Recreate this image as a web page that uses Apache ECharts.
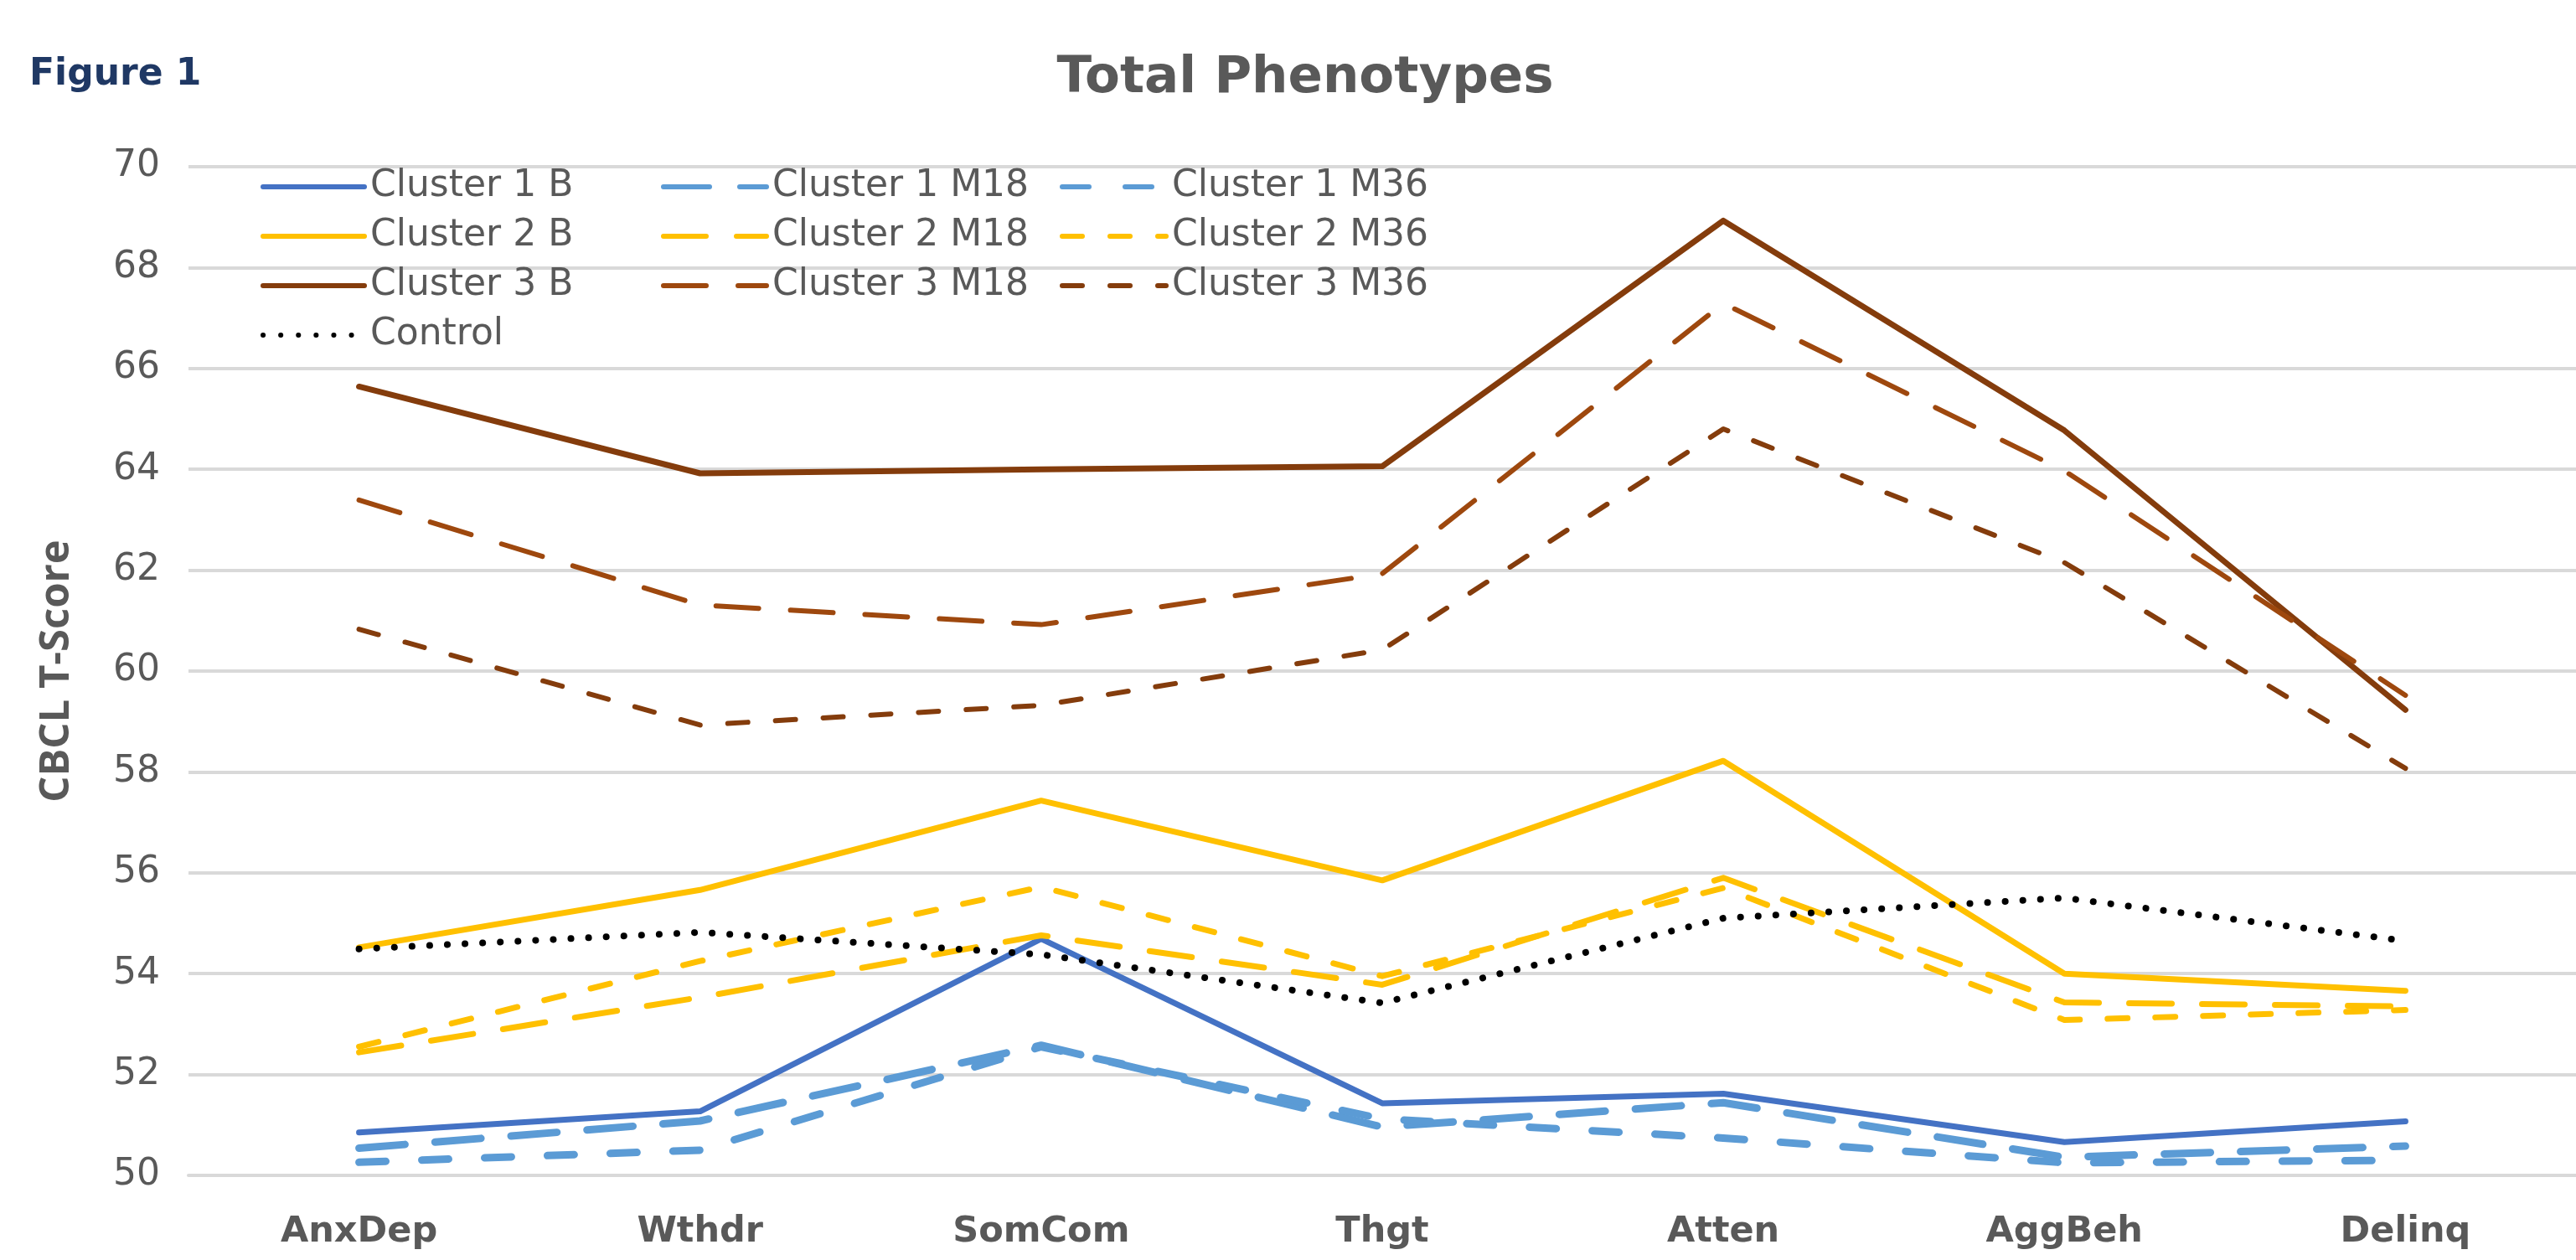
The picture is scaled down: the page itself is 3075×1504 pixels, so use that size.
<!DOCTYPE html>
<html>
<head>
<meta charset="utf-8">
<script src="https://cdn.jsdelivr.net/npm/echarts@6/dist/echarts.min.js"></script>
<style>
html,body{margin:0;padding:0;background:#fff;}
#chart{width:3075px;height:1504px;}
</style>
</head>
<body>
<div id="chart"></div>
<script>
const categories = ['AnxDep','Wthdr','SomCom','Thgt','Atten','AggBeh','Delinq'];
const yTicks = [50,52,54,56,58,60,62,64,66,68,70];

const cluster1B   = [50.85, 51.27, 54.69, 51.43, 51.62, 50.66, 51.07];
const cluster1M18 = [50.54, 51.08, 52.58, 50.96, 51.44, 50.36, 50.58];
const cluster1M36 = [50.26, 50.50, 52.55, 51.12, 50.74, 50.25, 50.30];
const cluster2B   = [54.52, 55.66, 57.43, 55.85, 58.22, 54.00, 53.66];
const cluster2M18 = [52.44, 53.53, 54.76, 53.78, 55.90, 53.43, 53.35];
const cluster2M36 = [52.55, 54.25, 55.72, 53.95, 55.70, 53.08, 53.28];
const cluster3B   = [65.64, 63.92, 64.00, 64.06, 68.93, 64.77, 59.23];
const cluster3M18 = [63.39, 61.31, 60.92, 61.93, 67.29, 63.97, 59.52];
const cluster3M36 = [60.83, 58.93, 59.32, 60.42, 64.80, 62.15, 58.07];
const control     = [54.49, 54.82, 54.38, 53.42, 55.10, 55.50, 54.65];

const C1 = '#4472C4', C1L = '#5B9BD5', C2 = '#FFC000', C3 = '#843C0C', C3M = '#9E480E';

function mk(name, data, color, width, type) {
  return {
    name: name, type: 'line', data: data, symbol: 'none',
    lineStyle: { color: color, width: width, type: type, cap: 'round', join: 'round' },
    itemStyle: { color: color },
    emphasis: { disabled: true },
    animation: false
  };
}

const series = [
  mk('Cluster 1 B', cluster1B, C1, 7, 'solid'),
  mk('Cluster 1 M18', cluster1M18, C1L, 9, [55, 36]),
  mk('Cluster 1 M36', cluster1M36, C1L, 9, [32, 43]),
  mk('Cluster 2 B', cluster2B, C2, 7, 'solid'),
  mk('Cluster 2 M18', cluster2M18, C2, 7, [51, 36]),
  mk('Cluster 2 M36', cluster2M36, C2, 7, [24, 33]),
  mk('Cluster 3 B', cluster3B, C3, 7, 'solid'),
  mk('Cluster 3 M18', cluster3M18, C3M, 6, [51, 38]),
  mk('Cluster 3 M36', cluster3M36, C3, 6, [24, 33]),
  mk('Control', control, '#000000', 8, [0.1, 21])
];

const legendText = { color: '#595959', fontSize: 44, fontFamily: 'DejaVu Sans', lineHeight: 50, padding: [0,0,0,2] };
function legend(names, left, w) {
  return { orient: 'vertical', left: left, top: 193, itemWidth: w, itemHeight: 20, itemGap: 9,
    data: names, textStyle: legendText, selectedMode: false,
    itemStyle: { opacity: 0 },
    lineStyle: { width: 6, cap: 'round' } };
}

const chart = echarts.init(document.getElementById('chart'), null, { renderer: 'canvas' });
chart.setOption({
  backgroundColor: '#ffffff',
  animation: false,
  graphic: [
    { type: 'text', left: 35, top: 68, style: { text: 'Figure 1', fill: '#1F3864', font: 'bold 44px "DejaVu Sans"' } },
    { type: 'text', x: 1558, y: 94, style: { text: 'Total Phenotypes', fill: '#595959', font: 'bold 61px "DejaVu Sans"', textAlign: 'center', textVerticalAlign: 'middle' } }
  ],
  legend: [
    legend(['Cluster 1 B','Cluster 2 B','Cluster 3 B','Control'], 306, 121),
    legend(['Cluster 1 M18','Cluster 2 M18','Cluster 3 M18'], 784, 123),
    legend(['Cluster 1 M36','Cluster 2 M36','Cluster 3 M36'], 1260, 124)
  ],
  grid: { left: 225, right: 0, top: 199, bottom: 101, containLabel: false },
  xAxis: {
    type: 'category', data: categories, boundaryGap: true,
    axisLine: { show: true, lineStyle: { color: '#D9D9D9', width: 4 } },
    axisTick: { show: false },
    axisLabel: { color: '#595959', fontSize: 43, fontWeight: 'bold', fontFamily: 'DejaVu Sans', margin: 46 }
  },
  yAxis: {
    type: 'value', min: yTicks[0], max: yTicks[yTicks.length-1], interval: 2,
    name: 'CBCL T-Score', nameLocation: 'middle', nameGap: 132, nameRotate: 90,
    nameTextStyle: { color: '#595959', fontSize: 49, fontWeight: 'bold', fontFamily: 'Open Sans' },
    axisLine: { show: false }, axisTick: { show: false },
    splitLine: { lineStyle: { color: '#D9D9D9', width: 4 } },
    axisLabel: { color: '#595959', fontSize: 44, fontFamily: 'DejaVu Sans', margin: 34 }
  },
  series: series
});
</script>
</body>
</html>
